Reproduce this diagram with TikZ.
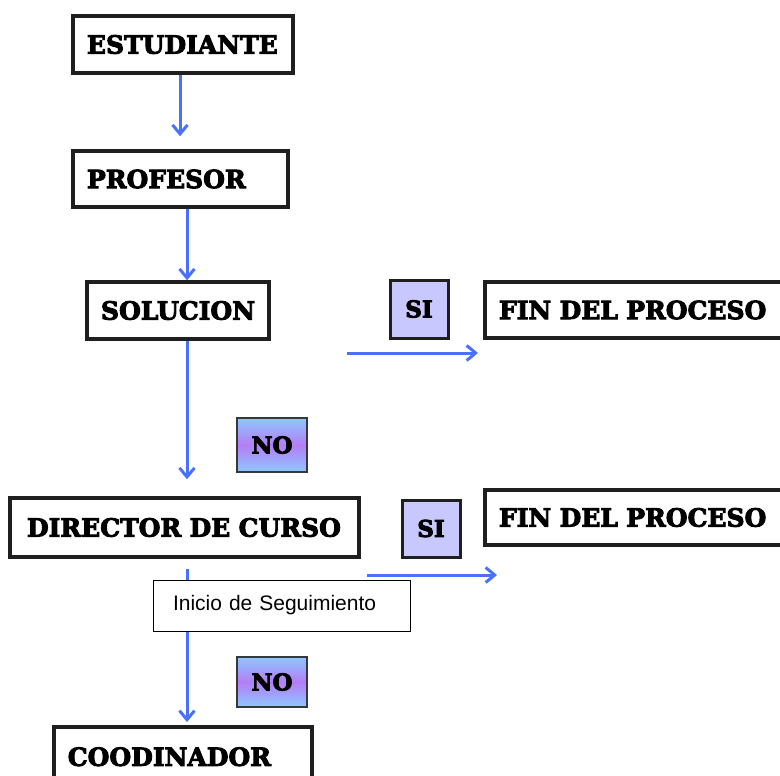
\documentclass[tikz,border=0pt]{standalone}
\usepackage{fontspec}
\setmainfont{DejaVu Serif}
\newfontfamily\labelfont{Liberation Sans}
\usetikzlibrary{arrows.meta}
\definecolor{arrowblue}{RGB}{74,112,255}
\definecolor{sifill}{RGB}{200,200,255}
\definecolor{notop}{RGB}{140,200,255}
\definecolor{nomid}{RGB}{180,125,245}
\newcommand\fatword[1]{\special{pdf:literal direct 2 Tr 0.9 w}#1\special{pdf:literal direct 0 Tr}}
\tikzset{
  procbox/.style={draw=black!88, line width=3.5pt, fill=white, inner xsep=14pt, inner ysep=0pt,
     align=left, font=\bfseries\fontsize{25}{28}\selectfont, anchor=center},
  sibox/.style={draw=black!88, line width=3pt, fill=sifill, inner sep=0pt,
     font=\bfseries\fontsize{23}{25}\selectfont},
  nobox/.style={draw=black!78, line width=2.8pt, inner sep=0pt, top color=notop, bottom color=notop,
     middle color=nomid, font=\bfseries\fontsize{23}{25}\selectfont},
  notebox/.style={draw=black, line width=1pt, fill=white, inner xsep=20pt, align=left,
     font=\labelfont\fontsize{21}{24}\selectfont},
  flow/.style={draw=arrowblue, line width=3pt, -{Straight Barb[length=9pt,width=15pt,line width=3pt]}}
}
\begin{document}
\begin{tikzpicture}[x=1pt,y=-1pt]
\useasboundingbox (0,0) rectangle (780,776);
\begin{scope}
\clip (0,0) rectangle (780,776);
% boxes
\node[procbox, minimum width=220pt, minimum height=57pt, text width=192pt] (est) at (183,44.5) {\fatword{ESTUDIANTE}};
\node[procbox, minimum width=215pt, minimum height=56pt, text width=187pt] (prof) at (180.5,179) {\fatword{PROFESOR}};
\node[procbox, minimum width=182pt, minimum height=57pt, text width=154pt] (sol) at (178,310.5) {\fatword{SOLUCION}};
\node[sibox, minimum width=58pt, minimum height=58pt] (si1) at (419,309) {\fatword{SI}};
\node[procbox, minimum width=325pt, minimum height=56pt, text width=297pt] (fin1) at (647.5,310) {\fatword{FIN DEL PROCESO}};
\node[nobox, minimum width=70pt, minimum height=54pt] (no1) at (272,445) {\fatword{NO}};
\node[procbox, minimum width=349pt, minimum height=59pt, text width=315pt, inner xsep=17pt] (dir) at (184.5,527.5) {\fatword{DIRECTOR DE CURSO}};
\node[sibox, minimum width=58pt, minimum height=57pt] (si2) at (431,528.5) {\fatword{SI}};
\node[procbox, minimum width=325pt, minimum height=55pt, text width=297pt] (fin2) at (647.5,517.5) {\fatword{FIN DEL PROCESO}};
\node[nobox, minimum width=70pt, minimum height=50pt] (no2) at (272,682) {\fatword{NO}};
\node[procbox, minimum width=258pt, minimum height=60pt, text width=230pt, anchor=north west] (coo) at (52,725) {\fatword{COODINADOR}};
% connectors
\draw[flow, shorten >=13pt] ([xshift=-3pt]est.south) -- ([xshift=-0.5pt]prof.north);
\draw[flow] ([xshift=6.5pt]prof.south) -- ([xshift=9pt]sol.north);
\draw[flow, shorten >=17pt] ([xshift=9pt]sol.south) -- ([xshift=2.5pt]dir.north);
\coordinate (s1) at (347,353);
\coordinate (s1e) at (478,353);
\draw[flow] (s1) -- (s1e);
\coordinate (s2) at (367,575);
\coordinate (s2e) at (497,575);
\draw[flow] (s2) -- (s2e);
\draw[flow, shorten <=10pt, shorten >=3pt] ([xshift=2.5pt]dir.south) -- (coo.north -| 187,0);
\node[notebox, minimum width=257pt, minimum height=51pt, text width=217pt] (ini) at (281.5,605.5) {Inicio de Seguimiento};
\end{scope}
\end{tikzpicture}
\end{document}
